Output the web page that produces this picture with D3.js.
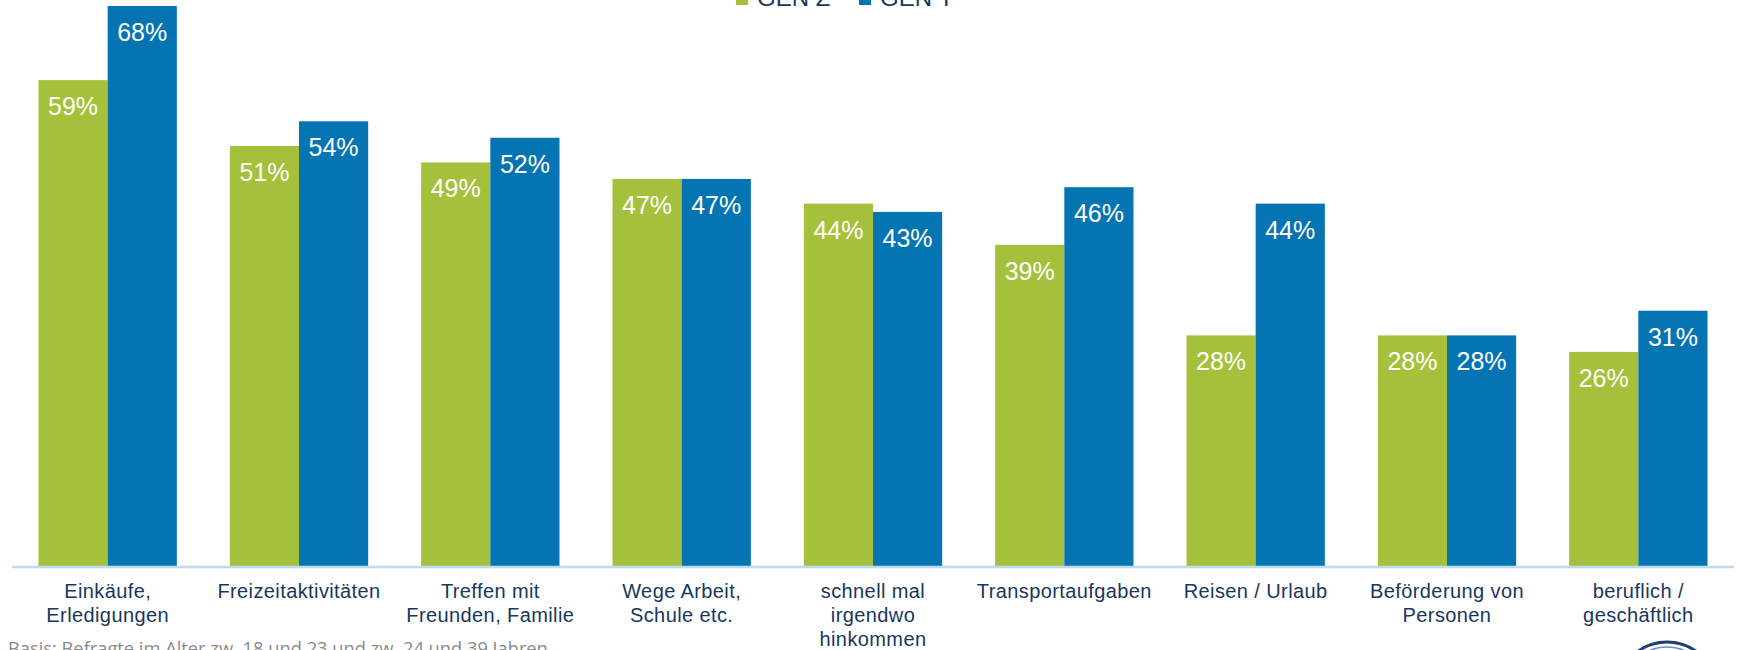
<!DOCTYPE html>
<html>
<head>
<meta charset="utf-8">
<script src="https://cdn.jsdelivr.net/npm/d3@7"></script>
<style>
  html, body { margin: 0; padding: 0; background: #fff; }
  svg { display: block; }
</style>
</head>
<body>
<svg id="chart" width="1737" height="650"></svg>
<script>
"use strict";

// categories (line breaks as in the original slide)
var categories = [
  "Einkäufe,\nErledigungen",
  "Freizeitaktivitäten",
  "Treffen mit\nFreunden, Familie",
  "Wege Arbeit,\nSchule etc.",
  "schnell mal\nirgendwo\nhinkommen",
  "Transportaufgaben",
  "Reisen / Urlaub",
  "Beförderung von\nPersonen",
  "beruflich /\ngeschäftlich"
]
var seriesNames = ["GEN Z", "GEN Y"]
var genZ = [59, 51, 49, 47, 44, 39, 28, 28, 26]
var genY = [68, 54, 52, 47, 43, 46, 44, 28, 31]
var footnote = "Basis: Befragte im Alter zw. 18 und 23 und zw. 24 und 39 Jahren"

var colors = ["#a5c13b", "#0474b3"]
var navy = "#17375e"

var svg = d3.select("#chart")
var baseY = 566

var x = d3.scaleBand()
  .domain(categories)
  .range([12, 1734])
  .paddingInner(0.277)
  .paddingOuter(0.1385)

var xs = d3.scaleBand()
  .domain(seriesNames)
  .range([0, x.bandwidth()])

var y = d3.scaleLinear()
  .domain([0, 68])
  .range([baseY, 6])

var rows = categories.map(function(c, i) {
  return { cat: c, values: [genZ[i], genY[i]] }
})

var groups = svg.append("g")
  .selectAll("g")
  .data(rows)
  .enter()
  .append("g")
    .attr("transform", function(d) { return "translate(" + x(d.cat) + ",0)" })

var bars = groups.selectAll("g.bar")
  .data(function(d) {
    return d.values.map(function(v, j) { return { name: seriesNames[j], value: v, j: j } })
  })
  .enter()
  .append("g")
    .attr("class", "bar")

bars.append("rect")
  .attr("x", function(d) { return xs(d.name) })
  .attr("y", function(d) { return y(d.value) })
  .attr("width", xs.bandwidth())
  .attr("height", function(d) { return baseY - y(d.value) })
  .style("fill", function(d) { return colors[d.j] })

bars.append("text")
  .attr("x", function(d) { return xs(d.name) + xs.bandwidth() / 2 })
  .attr("y", function(d) { return y(d.value) + 35 })
  .attr("text-anchor", "middle")
  .style("font-family", "Arial, 'Liberation Sans', sans-serif")
  .style("font-size", "25px")
  .style("fill", "#fff")
  .text(function(d) { return d.value + "%" })

// baseline
svg.append("line")
  .attr("x1", x.range()[0])
  .attr("x2", x.range()[1])
  .attr("y1", baseY + 1)
  .attr("y2", baseY + 1)
  .style("stroke", "#bddcf4")
  .style("stroke-width", 2.5)

// category labels
var labels = svg.append("g")
  .selectAll("text")
  .data(categories)
  .enter()
  .append("text")
    .attr("text-anchor", "middle")
    .style("font-family", "Arial, 'Liberation Sans', sans-serif")
    .style("font-size", "20px")
    .style("letter-spacing", "0.4px")
    .style("fill", navy)

labels.selectAll("tspan")
  .data(function(d) {
    return d.split("\n").map(function(s) { return { line: s, cat: d } })
  })
  .enter()
  .append("tspan")
    .attr("x", function(d) { return x(d.cat) + x.bandwidth() / 2 })
    .attr("y", function(d, i) { return 598 + i * 24 })
    .text(function(d) { return d.line })

// legend, cut off at the top edge like in the source
var legend = svg.append("g")
  .selectAll("g")
  .data(seriesNames)
  .enter()
  .append("g")
    .attr("transform", function(d, i) { return "translate(" + (736 + i * 123) + ",0)" })

legend.append("rect")
  .attr("x", 0)
  .attr("y", -8)
  .attr("width", 12)
  .attr("height", 13)
  .style("fill", function(d, i) { return colors[i] })

legend.append("text")
  .attr("x", 21)
  .attr("y", 6)
  .style("font-family", "Arial, 'Liberation Sans', sans-serif")
  .style("font-size", "24px")
  .style("fill", navy)
  .text(function(d) { return d })

// footnote
svg.append("text")
  .attr("x", 8)
  .attr("y", 655)
  .style("font-family", "'Open Sans', Lato, sans-serif")
  .style("font-size", "18.3px")
  .style("fill", "#8a8a8a")
  .text(footnote)

// logo edge, bottom right
svg.append("ellipse")
  .attr("cx", 1667)
  .attr("cy", 690)
  .attr("rx", 49)
  .attr("ry", 48)
  .style("fill", "none")
  .style("stroke", "#1d3f74")
  .style("stroke-width", 3)
svg.append("ellipse")
  .attr("cx", 1667)
  .attr("cy", 692)
  .attr("rx", 44)
  .attr("ry", 45)
  .style("fill", "none")
  .style("stroke", "#6f8fc0")
  .style("stroke-width", 1.5)
</script>
</body>
</html>
